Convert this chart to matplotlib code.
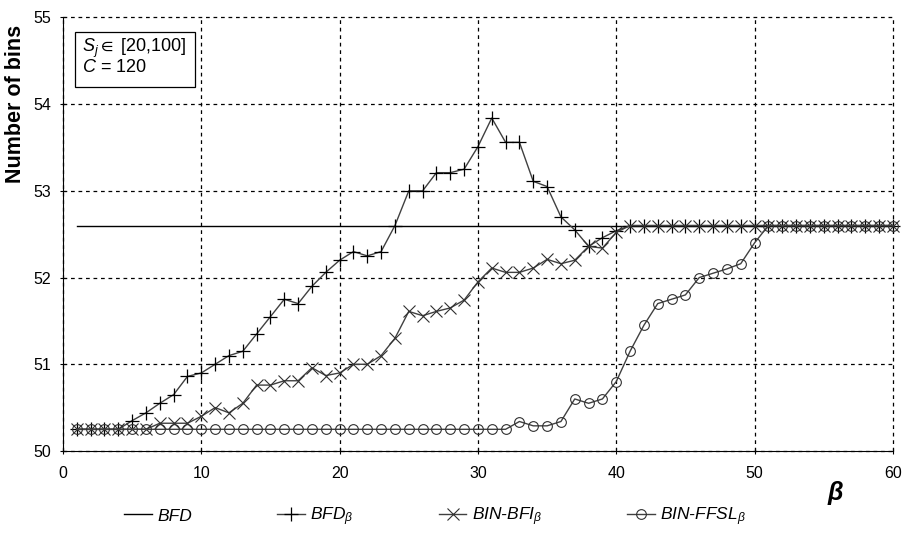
import numpy as np
import matplotlib.pyplot as plt
from matplotlib.patches import Rectangle

plt.rcParams['font.family'] = ['Liberation Sans', 'DejaVu Sans']
plt.rcParams['mathtext.fontset'] = 'custom'
plt.rcParams['mathtext.rm'] = 'Liberation Sans'
plt.rcParams['mathtext.it'] = 'Liberation Sans:italic'
plt.rcParams['mathtext.bf'] = 'Liberation Sans:bold'
plt.rcParams['mathtext.fallback'] = 'stixsans'

beta = np.arange(1, 61)

bfd = [52.6] * 60

bfd_beta = [50.25, 50.25, 50.25, 50.25, 50.35, 50.44, 50.55, 50.65, 50.86, 50.9,
            51.0, 51.1, 51.15, 51.35, 51.55, 51.75, 51.7, 51.9, 52.06, 52.2,
            52.3, 52.25, 52.3, 52.6, 53.0, 53.0, 53.21, 53.21, 53.25, 53.51,
            53.84, 53.56, 53.56, 53.11, 53.05, 52.7, 52.55, 52.36, 52.46, 52.54] + [52.6] * 20

bin_bfi = [50.25, 50.25, 50.25, 50.25, 50.25, 50.25, 50.32, 50.32, 50.32, 50.4,
           50.5, 50.44, 50.55, 50.76, 50.76, 50.81, 50.81, 50.96, 50.87, 50.9,
           51.0, 51.0, 51.1, 51.3, 51.61, 51.56, 51.61, 51.65, 51.74, 51.95,
           52.11, 52.06, 52.06, 52.11, 52.21, 52.16, 52.2, 52.36, 52.34, 52.52] + [52.6] * 20

bin_ffsl = [50.25] * 32 + [50.34, 50.29, 50.29, 50.34, 50.6, 50.55, 50.6, 50.8,
                           51.15, 51.45, 51.7, 51.75, 51.8, 52.0, 52.05, 52.1,
                           52.16, 52.4] + [52.6] * 10

fig = plt.figure(figsize=(9.05, 5.39), dpi=100)
ax = fig.add_axes([0.0696, 0.1633, 0.917, 0.8043])

ax.plot(beta, bfd, color='black', linewidth=1.0, label='BFD', clip_on=False)
ax.plot(beta, bfd_beta, color='#404040', linewidth=1.0, marker='+', markersize=10,
        markeredgecolor='black', markeredgewidth=0.9, label=r'BFD$_{\beta}$', clip_on=False)
ax.plot(beta, bin_bfi, color='#404040', linewidth=1.0, marker='x', markersize=8,
        markeredgecolor='#303030', markeredgewidth=0.8, label=r'BIN-BFI$_{\beta}$', clip_on=False)
ax.plot(beta, bin_ffsl, color='#404040', linewidth=1.0, marker='o', markersize=7,
        markerfacecolor='none', markeredgecolor='#303030', markeredgewidth=0.8,
        label=r'BIN-FFSL$_{\beta}$', clip_on=False)

ax.set_xlim(0, 60)
ax.set_ylim(50, 55)
ax.set_xticks(range(0, 61, 10))
ax.set_yticks(range(50, 56))
ax.grid(True, color='black', linestyle=(0, (3, 3)), linewidth=0.9)
for gl in ax.get_xgridlines() + ax.get_ygridlines():
    gl.set_clip_on(False)
for s in ['top', 'right']:
    ax.spines[s].set_visible(False)
ax.tick_params(axis='both', labelsize=11.5, direction='inout', length=5, width=0.8)
ax.tick_params(axis='x', pad=8)
ax.tick_params(axis='y', pad=6)

ax.set_ylabel('Number of bins', fontsize=15.5, fontweight='bold')
ax.yaxis.set_label_coords(-0.045, 0.801)

fig.text(835 / 905, 1 - 493 / 539, 'β', fontsize=18, fontweight='bold',
         fontstyle='italic', ha='center', va='center')

ax.add_patch(Rectangle((0.0145, 0.8397), 0.1445, 0.1268, transform=ax.transAxes,
                       facecolor='white', edgecolor='black', linewidth=0.9, zorder=5))
ax.text(0.023, 0.955, r'$S_j \in$' + ' [20,100]', transform=ax.transAxes,
        fontsize=13, va='top', ha='left', zorder=6)
ax.text(0.023, 0.905, r'$C$' + ' = 120', transform=ax.transAxes,
        fontsize=13, va='top', ha='left', zorder=6)

leg = fig.legend(loc='center left', bbox_to_anchor=(0.12, 0.041), ncol=4, frameon=False,
                 handlelength=1.6, handletextpad=0.3, columnspacing=4.9,
                 prop={'style': 'italic', 'size': 12.5})

fig.savefig('out.png', dpi=100)
